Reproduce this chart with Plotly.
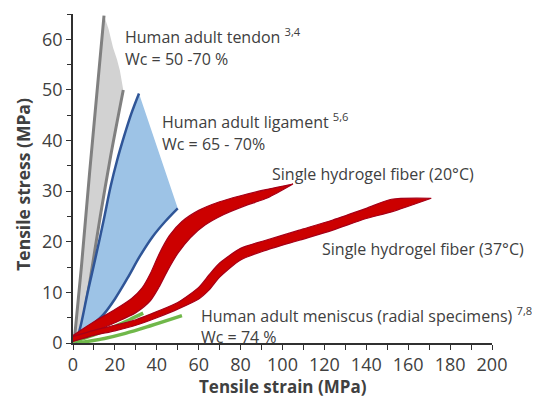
import plotly.graph_objects as go

# ---- data ----
tendon_left_x = [0.5, 4, 8, 12, 14.8]
tendon_left_y = [0, 15, 34, 52, 64.7]
tendon_right_x = [3, 8, 13, 18, 24]
tendon_right_y = [0, 12, 25, 37, 50]
tendon_top_x = [14.8, 17, 19.1, 21, 22.4, 24]
tendon_top_y = [64.7, 62, 58.4, 56, 53.8, 50]

lig_upper_x = [1.5, 4, 7, 10.5, 14.5, 18, 21, 24.5, 28, 31.5]
lig_upper_y = [0, 4, 10, 16.4, 24, 31, 36, 41, 45.5, 49.3]
lig_lower_x = [2, 6, 10, 14.5, 20, 26, 32, 38, 44, 50]
lig_lower_y = [0, 1.8, 3.8, 5.6, 8.7, 12.8, 17.2, 21.0, 24.0, 26.6]

h20_upper_x = [0, 10, 20, 28, 33, 37, 41, 46, 52, 60, 70, 80, 92, 105]
h20_upper_y = [1.5, 4.2, 6.6, 8.8, 10.9, 13.8, 17.5, 21.2, 24.0, 26.2, 27.9, 29.1, 30.3, 31.4]
h20_lower_x = [0, 10, 20, 30, 37, 41, 45, 50, 56, 63, 72, 82, 93, 105]
h20_lower_y = [0.4, 2.2, 4.0, 6.0, 8.4, 11.0, 14.2, 17.7, 20.8, 23.3, 25.4, 27.1, 28.7, 31.4]

h37_x = [0, 10, 20, 30, 40, 50, 60, 65, 70, 80, 92, 108, 124, 140, 152, 171]
h37_upper_y = [1.3, 2.5, 3.5, 4.6, 6.2, 8.0, 11, 13.5, 15.8, 18.7, 20.3, 22.3, 24.3, 26.6, 28.4, 28.6]
h37_lower_y = [0.3, 1.5, 2.4, 3.5, 5.0, 6.7, 8.7, 10.5, 13, 16.4, 18.3, 20.3, 22.3, 24.6, 25.9, 28.6]

men1_x = [0, 10, 20, 27, 33.5]
men1_y = [0.2, 1.6, 3.3, 4.6, 5.9]
men2_x = [2, 15, 25, 37, 52]
men2_y = [0, 0.9, 1.9, 3.4, 5.4]

x_ticks = [0, 20, 40, 60, 80, 100, 120, 140, 160, 180, 200]
y_ticks = [0, 10, 20, 30, 40, 50, 60]

GRAY_FILL = "#d2d2d2"
GRAY_LINE = "#808080"
BLUE_FILL = "#9dc3e6"
BLUE_LINE = "#2f5597"
RED_FILL = "#cc0000"
RED_EDGE = "#a50018"
GREEN = "#70b84a"
TXT = "#404040"
AX = "#303030"
FONT = "Open Sans"

fig = go.Figure()

# tendon fill
fig.add_trace(go.Scatter(
    x=tendon_left_x + tendon_top_x[1:] + tendon_right_x[::-1][1:],
    y=tendon_left_y + tendon_top_y[1:] + tendon_right_y[::-1][1:],
    fill="toself", fillcolor=GRAY_FILL, mode="lines", line=dict(width=0),
    hoverinfo="skip"))
fig.add_trace(go.Scatter(x=tendon_left_x, y=tendon_left_y, mode="lines",
                         line=dict(color=GRAY_LINE, width=3)))
fig.add_trace(go.Scatter(x=tendon_right_x, y=tendon_right_y, mode="lines",
                         line=dict(color=GRAY_LINE, width=3, shape="spline")))

# ligament fill
fig.add_trace(go.Scatter(
    x=lig_upper_x + lig_lower_x[::-1],
    y=lig_upper_y + lig_lower_y[::-1],
    fill="toself", fillcolor=BLUE_FILL, mode="lines", line=dict(width=0),
    hoverinfo="skip"))
fig.add_trace(go.Scatter(x=lig_upper_x, y=lig_upper_y, mode="lines",
                         line=dict(color=BLUE_LINE, width=2.5, shape="spline")))
fig.add_trace(go.Scatter(x=lig_lower_x, y=lig_lower_y, mode="lines",
                         line=dict(color=BLUE_LINE, width=2.5, shape="spline")))

# meniscus
fig.add_trace(go.Scatter(x=men1_x, y=men1_y, mode="lines",
                         line=dict(color=GREEN, width=3.5, shape="spline")))
fig.add_trace(go.Scatter(x=men2_x, y=men2_y, mode="lines",
                         line=dict(color=GREEN, width=3.5, shape="spline")))

# hydrogel bands
fig.add_trace(go.Scatter(
    x=h20_upper_x + h20_lower_x[::-1],
    y=h20_upper_y + h20_lower_y[::-1],
    fill="toself", fillcolor=RED_FILL, mode="lines",
    line=dict(color=RED_EDGE, width=1.2, shape="spline", smoothing=0.7)))
fig.add_trace(go.Scatter(
    x=h37_x + h37_x[::-1],
    y=h37_upper_y + h37_lower_y[::-1],
    fill="toself", fillcolor=RED_FILL, mode="lines",
    line=dict(color=RED_EDGE, width=1.2, shape="spline", smoothing=0.7)))

ann_font = dict(family=FONT, size=16, color=TXT)
texts = [
    (24, 60.7, "Human adult tendon <sup>3,4</sup>"),
    (24, 56.2, "Wc = 50 -70 %"),
    (41.5, 43.8, "Human adult ligament <sup>5,6</sup>"),
    (41.5, 39.4, "Wc = 65 - 70%"),
    (94, 33.3, "Single hydrogel fiber (20°C)"),
    (118, 18.5, "Single hydrogel fiber (37°C)"),
    (60, 5.6, "Human adult meniscus (radial specimens) <sup>7,8</sup>"),
    (60, 1.1, "Wc = 74 %"),
]
for x, y, t in texts:
    fig.add_annotation(x=x, y=y, xref="x", yref="y", text=t, showarrow=False,
                       xanchor="left", yanchor="middle", font=ann_font)

fig.add_annotation(x=-0.12, y=0.483, xref="paper", yref="paper",
                   text="<b>Tensile stress (MPa)</b>", textangle=-90,
                   showarrow=False, xanchor="center", yanchor="middle",
                   font=dict(family=FONT, size=17.5, color=TXT))
fig.add_annotation(x=0.5, y=-0.131, xref="paper", yref="paper",
                   text="<b>Tensile strain (MPa)</b>",
                   showarrow=False, xanchor="center", yanchor="middle",
                   font=dict(family=FONT, size=17, color=TXT))

fig.update_layout(
    width=532, height=390,
    margin=dict(l=65, r=48, t=6, b=55),
    paper_bgcolor="white", plot_bgcolor="white",
    showlegend=False,
    xaxis=dict(range=[0, 200], tickvals=x_ticks, showgrid=False, zeroline=False,
               showline=True, linecolor=AX, linewidth=1.5,
               ticks="outside", ticklen=5, tickcolor=AX, tickwidth=1.2,
               minor=dict(ticks="outside", ticklen=5, dtick=10, tickcolor=AX),
               tickfont=dict(family=FONT, size=18, color=TXT)),
    yaxis=dict(range=[0, 65], tickvals=y_ticks, showgrid=False, zeroline=False,
               showline=True, linecolor=AX, linewidth=1.5,
               ticks="outside", ticklen=5, tickcolor=AX, tickwidth=1.2,
               minor=dict(ticks="outside", ticklen=4, dtick=5, tickcolor=AX),
               tickfont=dict(family=FONT, size=18, color=TXT)),
)

fig.write_html("out.html")
